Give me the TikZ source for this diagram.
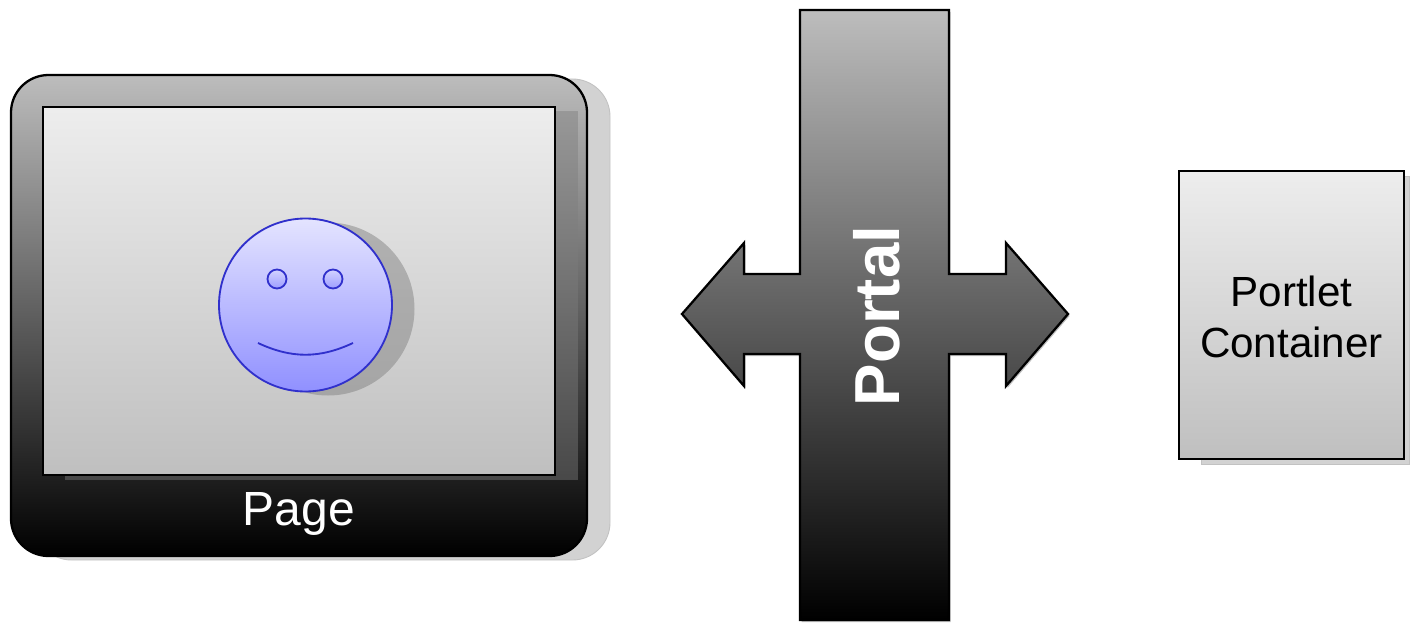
\documentclass[tikz,border=0pt]{standalone}
\usepackage{fontspec}
\setmainfont{Liberation Sans}
\usepackage{tikz}
\usetikzlibrary{positioning,calc}
\definecolor{shadowgray}{HTML}{D2D2D2}
\definecolor{shadowline}{HTML}{C2C2C2}
\definecolor{darkshadow}{HTML}{7D7D7D}
\definecolor{facetop}{HTML}{E4E4FF}
\definecolor{facebottom}{HTML}{9090FF}
\definecolor{faceline}{HTML}{3030CC}

\begin{document}
\begin{tikzpicture}[every node/.style={align=center},
  softshadow/.style={draw=shadowline,fill=shadowgray,line width=0.5pt},
  pagebox/.style={draw=black,line width=1.3pt,top color=black!26,bottom color=black,rounded corners=7.5mm,minimum width=115.2mm,minimum height=96.2mm},
  panel/.style={draw=black,line width=1.3pt,top color=black!7,bottom color=black!25},
  innershadow/.style={fill=darkshadow,fill opacity=0.45},
  face/.style={circle,draw=faceline,line width=1.05pt,top color=facetop,bottom color=facebottom,inner sep=0pt,minimum size=34.6mm},
  eye/.style={circle,draw=faceline,line width=1.05pt,top color=facetop!80!facebottom,bottom color=facebottom!85!facetop,inner sep=0pt,minimum size=3.8mm}]
  \useasboundingbox (0,0) rectangle (28.26,12.46);
  % page with its portlet window
  \node[softshadow,rounded corners=7.5mm,minimum width=115.2mm,minimum height=96.2mm] (pageshadow) at (6.44,6.07) {};
  \node[pagebox] (page) at (5.98,6.15) {};
  \node[innershadow,minimum width=102.6mm,minimum height=73.8mm] (windowshadow) at (6.43,6.55) {};
  \node[panel,minimum width=102.4mm,minimum height=73.6mm] (window) at (5.98,6.64) {};
  \node[font=\fontsize{27.3}{30}\selectfont,text=white] (pagelabel) at (5.98,2.18) {Page};
  % smiley
  \node[circle,fill=black!52,fill opacity=0.45,inner sep=0pt,minimum size=34.6mm] (faceshadow) at (6.56,6.28) {};
  \node[face] (smiley) at (6.11,6.36) {};
  \node[eye] (lefteye) at (5.54,6.88) {};
  \node[eye] (righteye) at (6.66,6.88) {};
  \coordinate (mouthleft) at (5.16,5.6);
  \coordinate (mouthright) at (7.06,5.6);
  \draw[faceline,line width=1.05pt] (mouthleft) to[bend right=25] (mouthright);
  % portal cross
  \fill[black,opacity=0.25,shift={(0.03,-0.04)}] (16,12.26) -- (18.98,12.26) -- (18.98,6.98) -- (20.12,6.98) -- (20.12,7.6) -- (21.36,6.18) -- (20.12,4.74) -- (20.12,5.38) -- (18.98,5.38) -- (18.98,0.06) -- (16,0.06) -- (16,5.38) -- (14.88,5.38) -- (14.88,4.74) -- (13.64,6.18) -- (14.88,7.6) -- (14.88,6.98) -- (16,6.98) -- cycle;
  \draw[black,line width=1.3pt,top color=black!26,bottom color=black] (16,12.26) -- (18.98,12.26) -- (18.98,6.98) -- (20.12,6.98) -- (20.12,7.6) -- (21.36,6.18) -- (20.12,4.74) -- (20.12,5.38) -- (18.98,5.38) -- (18.98,0.06) -- (16,0.06) -- (16,5.38) -- (14.88,5.38) -- (14.88,4.74) -- (13.64,6.18) -- (14.88,7.6) -- (14.88,6.98) -- (16,6.98) -- cycle;
  \node[rotate=90,font=\fontsize{36.2}{40}\bfseries\selectfont,text=white] (portal) at (17.54,6.14) {Portal};
  % portlet container
  \node[softshadow,minimum width=41.6mm,minimum height=57.6mm] (containershadow) at (26.1,6.06) {};
  \node[panel,minimum width=45mm,minimum height=57.6mm] (container) at (25.83,6.16) {};
  \node[font=\fontsize{24}{29}\selectfont] (containerlabel) at (25.83,6.12) {Portlet\\Container};
\end{tikzpicture}
\end{document}
